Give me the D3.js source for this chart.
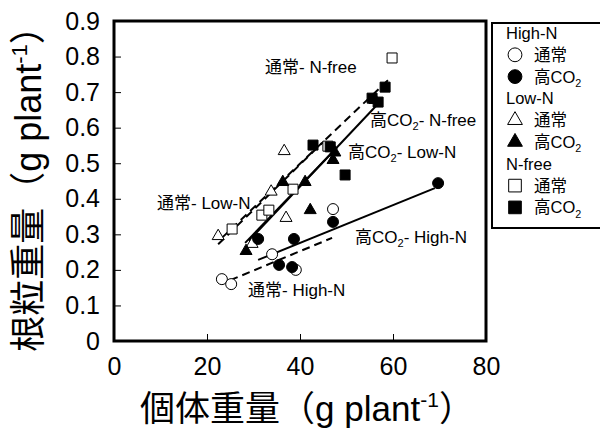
<!DOCTYPE html>
<html>
<head>
<meta charset="utf-8">
<script src="https://cdn.jsdelivr.net/npm/d3@7"></script>
<style>
  body { margin: 0; background: #fff; }
  text { font-family: "Liberation Sans", Arial, "Noto Sans CJK JP", sans-serif; fill: #000; }
</style>
</head>
<body>
<div id="chart"></div>
<script>
// values (x = 個体重量, y = 根粒重量)
var hnNormX = [23.2, 25.2, 34.0, 39.1, 47.1];
var hnNormY = [0.174, 0.160, 0.244, 0.200, 0.371];
var hnCo2X = [31.0, 35.5, 38.3, 38.7, 47.1, 69.7];
var hnCo2Y = [0.287, 0.214, 0.208, 0.287, 0.335, 0.444];
var lnNormX = [22.4, 29.7, 33.8, 36.6, 37.0];
var lnNormY = [0.295, 0.273, 0.420, 0.534, 0.346];
var lnCo2X = [28.4, 36.3, 41.1, 42.2, 47.1, 47.5, 56.1];
var lnCo2Y = [0.253, 0.447, 0.447, 0.368, 0.509, 0.530, 0.678];
var nfNormX = [25.4, 31.8, 33.3, 38.5, 46.0, 59.8];
var nfNormY = [0.315, 0.354, 0.368, 0.427, 0.548, 0.796];
var nfCo2X = [42.8, 46.5, 49.7, 55.5, 56.8, 58.3];
var nfCo2Y = [0.551, 0.546, 0.467, 0.683, 0.672, 0.714];

// regression line ends [x0, y0, x1, y1]
var lineHnNorm = [25.0, 0.171, 46.9, 0.290];
var lineHnCo2 = [31.0, 0.228, 69.0, 0.430];
var lineLnNorm = [22.4, 0.272, 45.0, 0.560];
var lineLnCo2 = [28.2, 0.276, 48.0, 0.545];
var lineNfNorm = [23.2, 0.290, 59.6, 0.742];
var lineNfCo2 = [29.0, 0.282, 57.0, 0.670];

var xTicks = [0, 20, 40, 60, 80];
var yTicks = [0, 0.1, 0.2, 0.3, 0.4, 0.5, 0.6, 0.7, 0.8, 0.9];

var width = 600, height = 432;
var svg = d3.select("#chart").append("svg").attr("width", width).attr("height", height);
svg.append("rect").attr("width", width).attr("height", height).attr("fill", "#fff");

var x = d3.scaleLinear().domain([0, 80]).range([114, 486]);
var y = d3.scaleLinear().domain([0, 0.9]).range([341, 21]);

var xAxis = svg.append("g").attr("transform", "translate(0,341)")
  .call(d3.axisBottom(x).tickValues(xTicks).tickSize(-7).tickPadding(16));
var yAxis = svg.append("g").attr("transform", "translate(114,0)")
  .call(d3.axisLeft(y).tickValues(yTicks).tickSize(-7).tickPadding(14)
    .tickFormat(function(d) { return d === 0 ? "0" : d3.format(".1f")(d); }));
[xAxis, yAxis].forEach(function(a) {
  a.select(".domain").remove();
  a.selectAll("line").attr("stroke", "#000").attr("stroke-width", 1);
  a.selectAll("text").attr("font-size", 25).attr("fill", "#000")
    .style("font-family", "'Liberation Sans', Arial, sans-serif");
});

// regression lines
function drawLine(l, dashed) {
  svg.append("line")
    .attr("x1", x(l[0])).attr("y1", y(l[1]))
    .attr("x2", x(l[2])).attr("y2", y(l[3]))
    .attr("stroke", "#000").attr("stroke-width", 2)
    .attr("stroke-dasharray", dashed ? "8,5" : null);
}
drawLine(lineHnNorm, true);
drawLine(lineHnCo2, false);
drawLine(lineLnNorm, true);
drawLine(lineLnCo2, false);
drawLine(lineNfNorm, true);
drawLine(lineNfCo2, false);

function drawPoints(xs, ys, type, size, filled) {
  var pts = xs.map(function(v, i) { return [v, ys[i]]; });
  svg.append("g").selectAll("path").data(pts).enter().append("path")
    .attr("d", d3.symbol().type(type).size(size))
    .attr("transform", function(d) { return "translate(" + x(d[0]) + "," + y(d[1]) + ")"; })
    .attr("fill", filled ? "#000" : "#fff")
    .attr("stroke", "#000").attr("stroke-width", 1);
}
drawPoints(hnNormX, hnNormY, d3.symbolCircle, 95, false);
drawPoints(lnNormX, lnNormY, d3.symbolTriangle, 62, false);
drawPoints(nfNormX, nfNormY, d3.symbolSquare, 100, false);
drawPoints(hnCo2X, hnCo2Y, d3.symbolCircle, 95, true);
drawPoints(lnCo2X, lnCo2Y, d3.symbolTriangle, 62, true);
drawPoints(nfCo2X, nfCo2Y, d3.symbolSquare, 100, true);

// plot frame
svg.append("rect").attr("x", 114).attr("y", 21).attr("width", 372).attr("height", 320)
  .attr("fill", "none").attr("stroke", "#000").attr("stroke-width", 3);

// line labels
function label(px, py, pre, co2, post, size, anchor) {
  var t = svg.append("text").attr("x", px).attr("y", py).attr("font-size", size)
    .attr("text-anchor", anchor || "start");
  t.append("tspan").text(pre);
  if (co2) {
    t.append("tspan").text("CO");
    t.append("tspan").text("2").attr("font-size", size * 0.65).attr("dy", size * 0.25);
    t.append("tspan").text(post).attr("dy", -size * 0.25);
  } else {
    t.append("tspan").text(post);
  }
  return t;
}
label(265, 73, "通常", false, "- N-free", 17);
label(370, 126, "高", true, "- N-free", 17);
label(348, 158, "高", true, "- Low-N", 17);
label(157, 209, "通常", false, "- Low-N", 17);
label(248, 296, "通常", false, "- High-N", 17);
label(355, 243, "高", true, "- High-N", 17);

// legend
svg.append("rect").attr("x", 492).attr("y", 23).attr("width", 120).attr("height", 205)
  .attr("fill", "#fff").attr("stroke", "#000").attr("stroke-width", 2);
var legendRows = [
  ["High-N"], [d3.symbolCircle, false, "通常"], [d3.symbolCircle, true, "高"],
  ["Low-N"], [d3.symbolTriangle, false, "通常"], [d3.symbolTriangle, true, "高"],
  ["N-free"], [d3.symbolSquare, false, "通常"], [d3.symbolSquare, true, "高"]
];
var legendSizes = new Map([[d3.symbolCircle, 150], [d3.symbolTriangle, 95], [d3.symbolSquare, 160]]);
legendRows.forEach(function(r, i) {
  var cy = 33 + i * 21.8;
  if (r.length === 1) {
    svg.append("text").attr("x", 506).attr("y", cy + 6).attr("font-size", 16.5).text(r[0]);
  } else {
    svg.append("path").attr("d", d3.symbol().type(r[0]).size(legendSizes.get(r[0])))
      .attr("transform", "translate(515," + cy + ")")
      .attr("fill", r[1] ? "#000" : "#fff").attr("stroke", "#000").attr("stroke-width", 1);
    label(534, cy + 6, r[2], r[1], "", 16.5);
  }
});

// axis titles
var xt = svg.append("text").attr("x", 307).attr("y", 421).attr("text-anchor", "middle").attr("font-size", 35);
xt.append("tspan").text("個体重量（g plant");
xt.append("tspan").text("-1").attr("font-size", 21).attr("dy", -14);
xt.append("tspan").text("）").attr("dy", 14);

var yt = svg.append("text").attr("transform", "translate(41,180) rotate(-90)")
  .attr("text-anchor", "middle").attr("font-size", 36);
yt.append("tspan").text("根粒重量（g plant");
yt.append("tspan").text("-1").attr("font-size", 22).attr("dy", -14);
yt.append("tspan").text("）").attr("dy", 14);
</script>
</body>
</html>
